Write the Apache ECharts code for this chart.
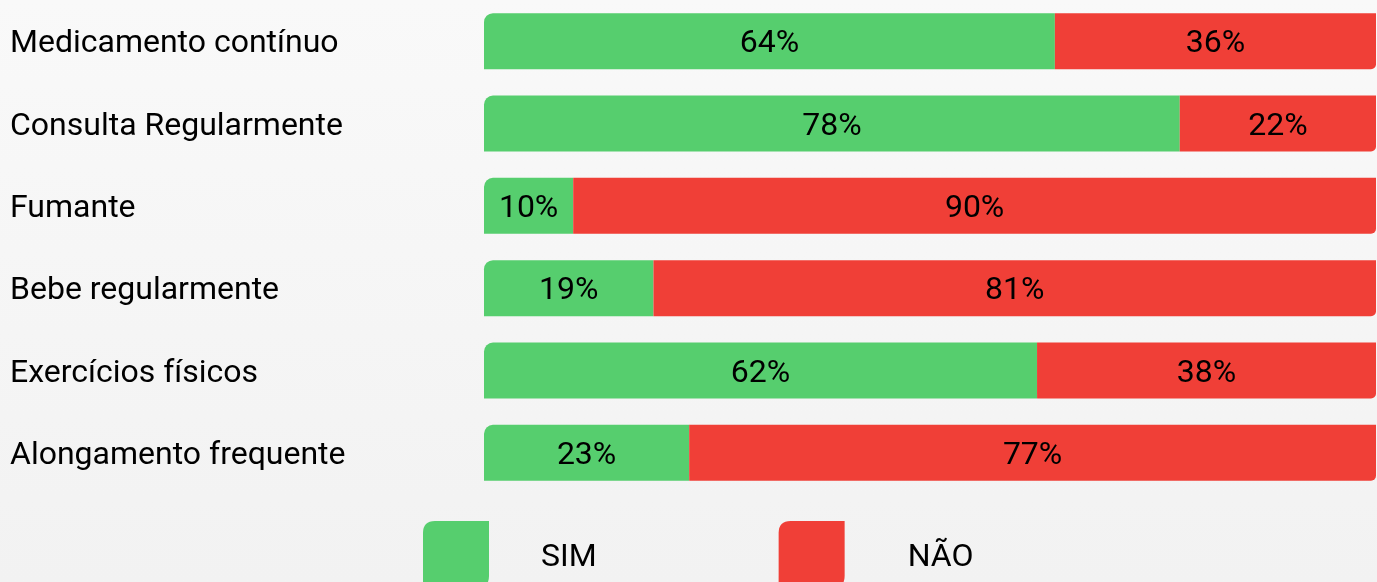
<!DOCTYPE html>
<html>
<head>
<meta charset="utf-8">
<script src="https://cdn.jsdelivr.net/npm/echarts@6/dist/echarts.min.js"></script>
<style>
  html, body { margin: 0; padding: 0; }
  #chart { width: 1377px; height: 582px; background: linear-gradient(to bottom, #f9f9f9 0%, #f2f2f2 100%); }
</style>
</head>
<body>
<div id="chart"></div>
<script>
// Survey answers per habit (percent of respondents)
const categories = [
  'Medicamento contínuo',
  'Consulta Regularmente',
  'Fumante',
  'Bebe regularmente',
  'Exercícios físicos',
  'Alongamento frequente'
];
const simValues = [64, 78, 10, 19, 62, 23];
const naoValues = [36, 22, 90, 81, 38, 77];
const seriesNames = ['SIM', 'NÃO'];

const GREEN = '#56ce6e';
const RED = '#f03f37';
const FONT = 'Roboto';
const FS = 32;

// Legend swatch: square with rounded top-left and bottom-right corners
const leafIcon = 'path://M12,0 L66,0 L66,55 Q66,67 54,67 L0,67 L0,12 Q0,0 12,0 Z';

const chart = echarts.init(document.getElementById('chart'), null, { renderer: 'canvas' });

chart.setOption({
  backgroundColor: 'transparent',
  animation: false,
  textStyle: { fontFamily: FONT },
  grid: { left: 484, right: 1, top: -2, height: 496, containLabel: false },
  xAxis: {
    type: 'value', min: 0, max: 100,
    show: false
  },
  yAxis: {
    type: 'category',
    data: categories,
    inverse: true,
    axisLine: { show: false },
    axisTick: { show: false },
    splitLine: { show: false },
    axisLabel: {
      align: 'left',
      margin: 474,
      formatter: '{t|{value}}',
      rich: {
        t: { color: '#000', fontSize: FS, fontFamily: FONT, padding: [6, 0, 0, 0] }
      }
    }
  },
  legend: {
    left: 423,
    top: 521,
    padding: 0,
    itemWidth: 66,
    itemHeight: 67,
    itemGap: 182,
    icon: leafIcon,
    formatter: function (name) {
      return (name === seriesNames[0] ? '{s|' : '{n|') + name + '}';
    },
    textStyle: {
      fontSize: FS,
      color: '#000',
      fontFamily: FONT,
      rich: {
        s: { fontSize: FS, color: '#000', fontFamily: FONT, padding: [6, 0, 0, 47] },
        n: { fontSize: FS, color: '#000', fontFamily: FONT, padding: [6, 0, 0, 58] }
      }
    },
    data: seriesNames
  },
  series: [
    {
      name: seriesNames[0],
      type: 'bar',
      stack: 'total',
      barWidth: 56,
      data: simValues,
      itemStyle: { color: GREEN, borderRadius: [9, 0, 0, 0] },
      label: {
        show: true, position: 'inside', formatter: '{c}%', offset: [0, 3],
        color: '#000', fontSize: FS, fontFamily: FONT
      }
    },
    {
      name: seriesNames[1],
      type: 'bar',
      stack: 'total',
      barWidth: 56,
      data: naoValues,
      itemStyle: { color: RED, borderRadius: [0, 0, 5, 0] },
      label: {
        show: true, position: 'inside', formatter: '{c}%', offset: [0, 3],
        color: '#000', fontSize: FS, fontFamily: FONT
      }
    }
  ]
});
</script>
</body>
</html>
